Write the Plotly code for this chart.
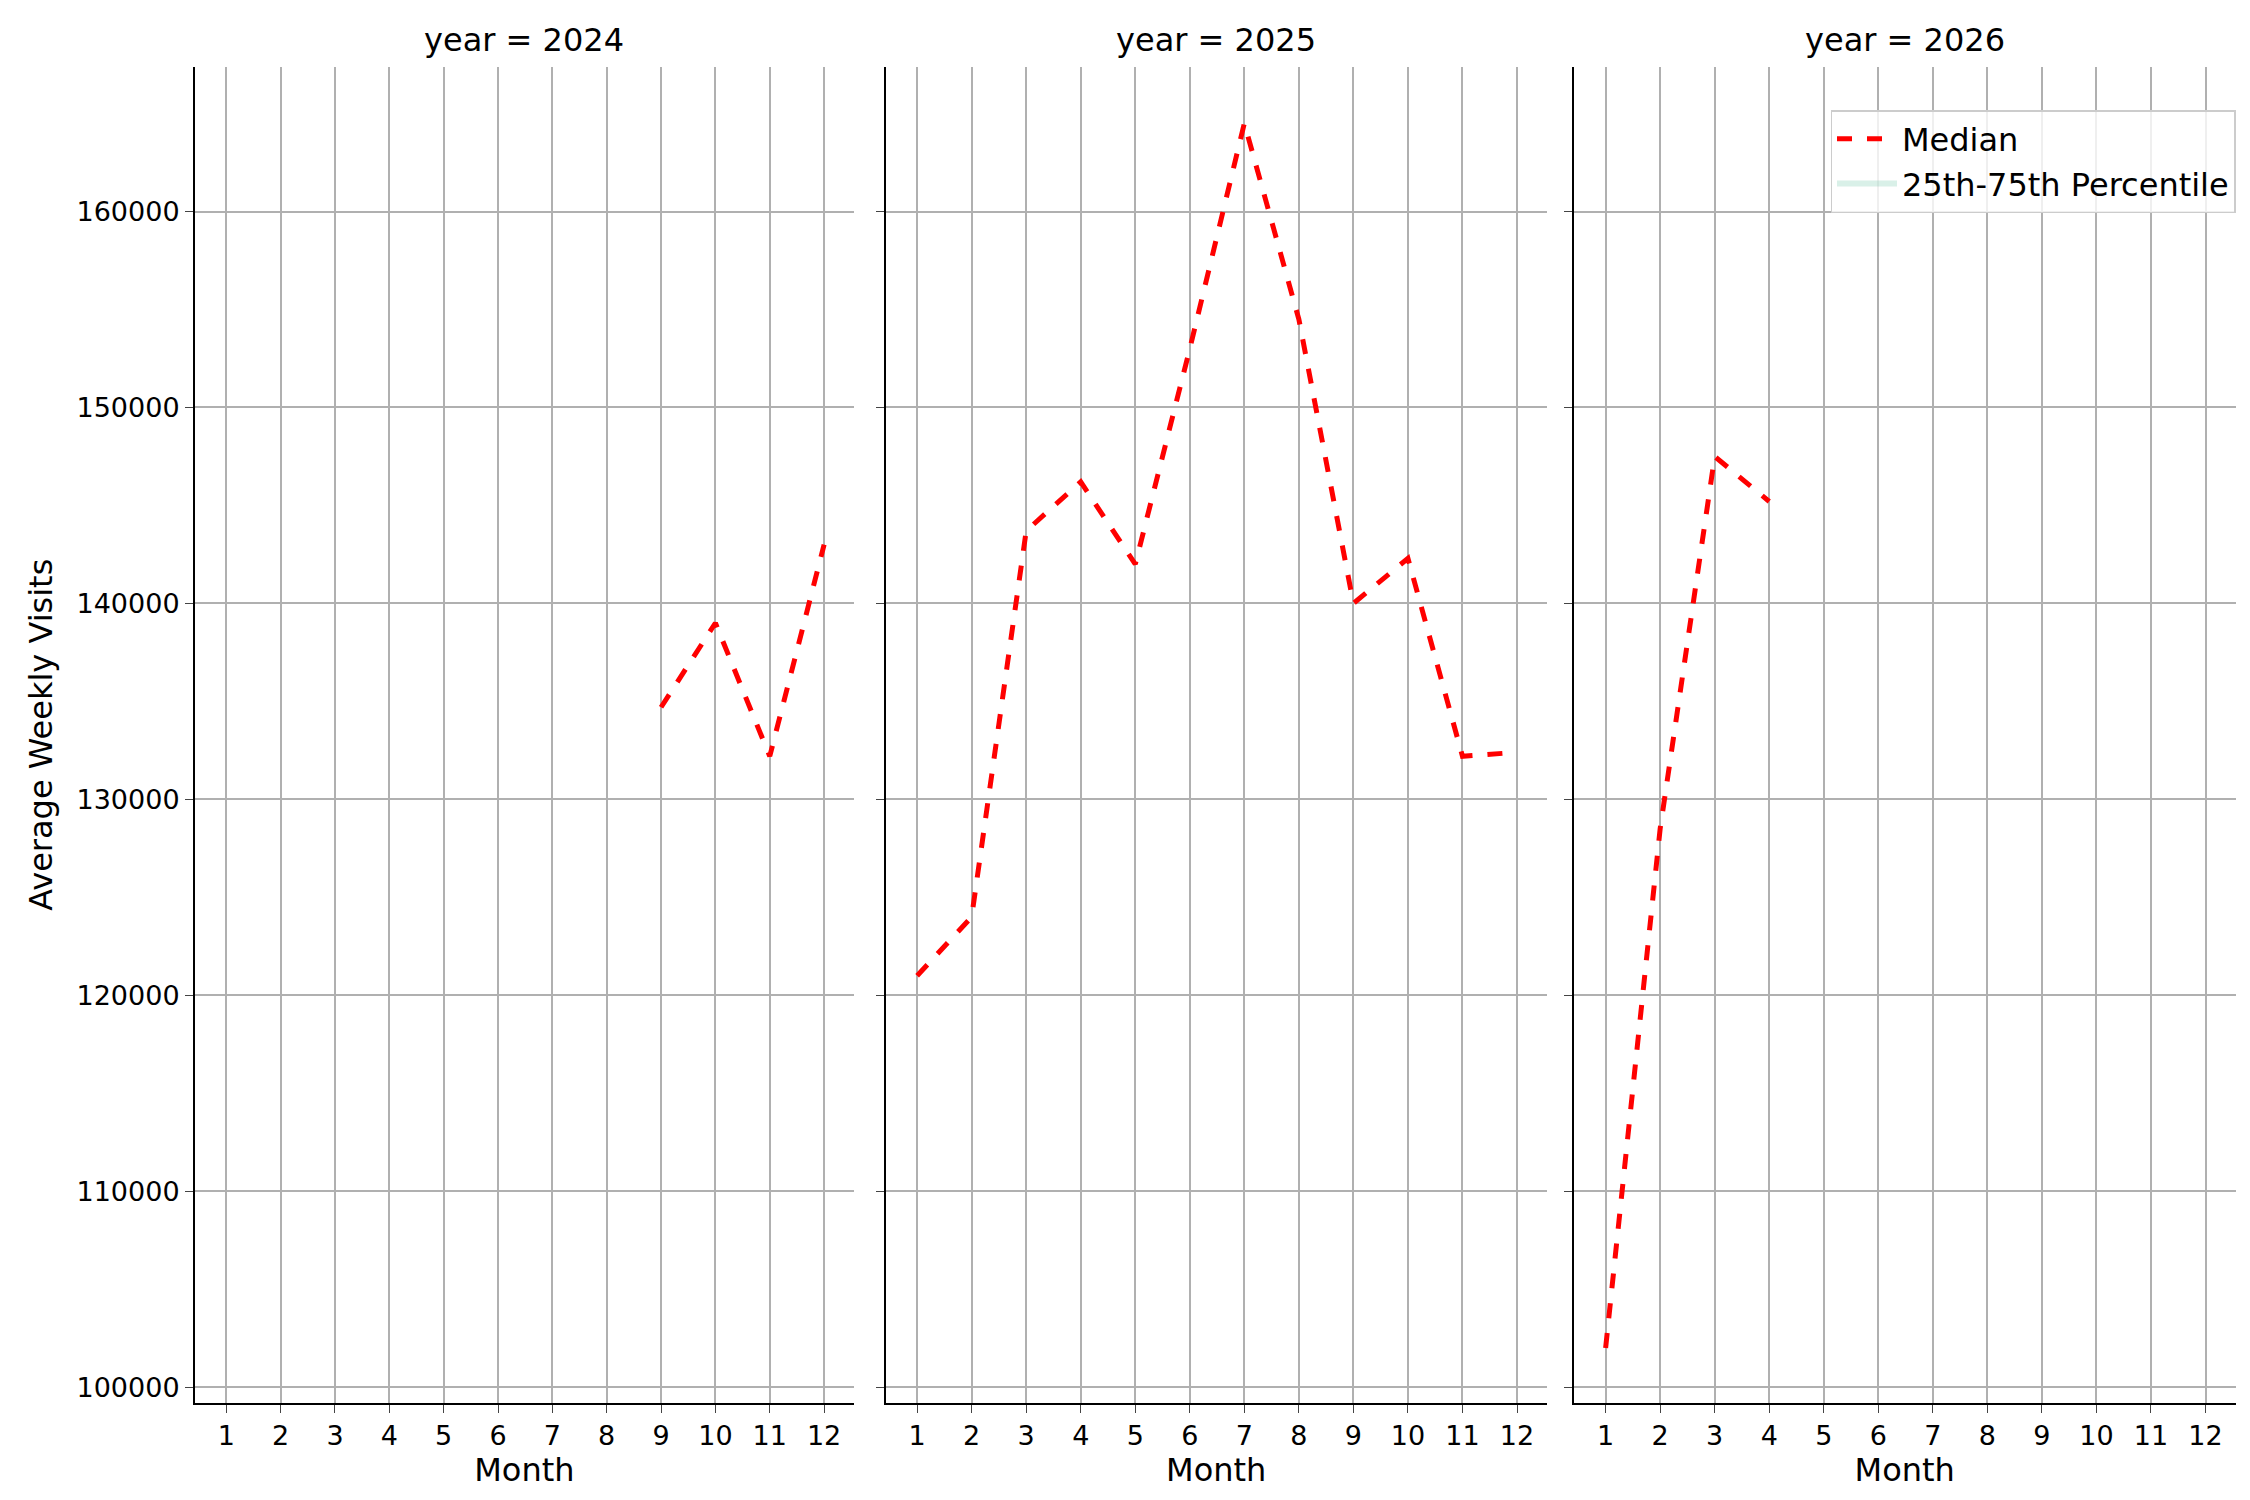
import plotly.graph_objects as go

months = list(range(1, 13))
m2024 = [9, 10, 11, 12]
v2024 = [134700, 139000, 132200, 143000]
m2025 = months
v2025 = [121000, 124000, 143700, 146200, 142000, 153000, 164500, 154500, 140000, 142300, 132200, 132400]
m2026 = [1, 2, 3, 4]
v2026 = [102000, 128500, 147500, 145200]
years = ["2024", "2025", "2026"]
yticks = [100000, 110000, 120000, 130000, 140000, 150000, 160000]

fig = go.Figure()
xd = [(0.083, 0.376), (0.390, 0.684), (0.696, 0.990)]
data = [(m2024, v2024), (m2025, v2025), (m2026, v2026)]
for i, (mx, vy) in enumerate(data):
    n = "" if i == 0 else str(i + 1)
    fig.add_trace(go.Scatter(x=mx, y=vy, mode="lines", name="Median", showlegend=(i == 2),
                             line=dict(color="red", width=5, dash="dash"),
                             xaxis="x" + n, yaxis="y" + n))
    fig.layout["xaxis" + n] = dict(domain=xd[i], range=[0.42, 12.55], tickvals=months,
        showgrid=True, gridcolor="#b0b0b0", gridwidth=1.5, showline=True, linecolor="black", linewidth=1.5,
        ticks="outside", ticklen=8, tickfont=dict(size=27, color="black"),
        title=dict(text="Month", font=dict(size=32, color="black"), standoff=4),
        anchor="y" + n, zeroline=False)
    fig.layout["yaxis" + n] = dict(domain=[0.070, 0.961], range=[99194, 167400], tickvals=yticks,
        tickformat="d",
        showgrid=True, gridcolor="#b0b0b0", gridwidth=1.5, showline=True, linecolor="black", linewidth=1.5,
        ticks="outside", ticklen=8, tickfont=dict(size=27, color="black"),
        showticklabels=(i == 0), anchor="x" + n, zeroline=False,
        title=dict(text="Average Weekly Visits" if i == 0 else "", font=dict(size=32, color="black"), standoff=14))
    fig.add_annotation(text="year = " + years[i], x=(xd[i][0] + xd[i][1]) / 2, y=0.965,
                       xref="paper", yref="paper", xanchor="center", yanchor="bottom",
                       showarrow=False, font=dict(size=32, color="black"))

fig.add_trace(go.Scatter(x=[None], y=[None], mode="none", fill="toself", fillcolor="rgba(102,194,165,0.25)",
                         name="25th-75th Percentile", xaxis="x3", yaxis="y3"))

fig.update_layout(width=2250, height=1500, plot_bgcolor="white", paper_bgcolor="white",
                  margin=dict(l=0, r=0, t=0, b=0),
                  font=dict(family="DejaVu Sans", color="black"),
                  legend=dict(x=0.99, y=0.932, xanchor="right", yanchor="top", font=dict(size=32),
                              itemwidth=60, tracegroupgap=4,
                              bordercolor="#cccccc", borderwidth=1.5, bgcolor="rgba(255,255,255,0.8)"))
fig.write_html("out.html")
